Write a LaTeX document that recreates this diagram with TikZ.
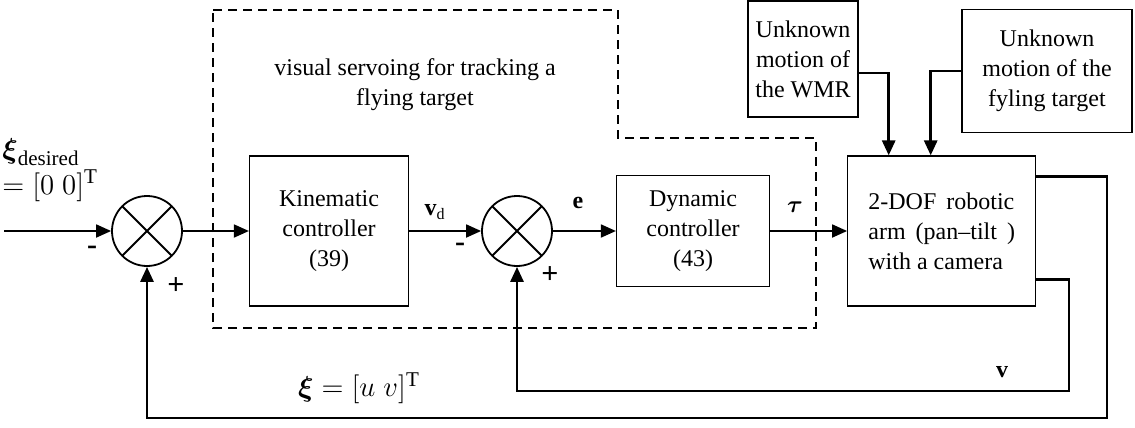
\documentclass[tikz,border=0pt]{standalone}
\usepackage{amsmath}
\usepackage{fontspec}
\setmainfont{Liberation Serif}[Ligatures=TeX]
\usetikzlibrary{positioning,arrows.meta}
\tikzset{
  blk/.style  ={draw, rectangle, align=center, line width=0.6pt, inner sep=2pt, font=\rmfamily\fontsize{12}{15}\selectfont},
  sumj/.style ={draw, circle, minimum size=35pt, inner sep=0pt, line width=0.9pt,
                path picture={\draw[line width=0.9pt] (path picture bounding box.north west) -- (path picture bounding box.south east)
                              (path picture bounding box.north east) -- (path picture bounding box.south west);}},
  arr/.style  ={-{Triangle[length=7.5pt,width=6.5pt]}, line width=0.9pt},
  fb/.style   ={-{Triangle[length=7.5pt,width=6.5pt]}, line width=1.4pt},
  frame/.style={dash pattern=on 4.5pt off 3pt, line width=0.8pt},
  sgn/.style  ={font=\rmfamily\fontsize{15}{15}\selectfont\bfseries, inner sep=0pt},
  lbl/.style  ={font=\rmfamily\fontsize{12}{15}\selectfont, inner sep=0pt},
}

\begin{document}
\begin{tikzpicture}[x=1pt, y=1pt]
  \useasboundingbox (0,0) rectangle (567.5,-214);

  % main chain
  \node[sumj] (sum1) at (73.5,-115.5) {};
  \node[blk, right=33pt of sum1, minimum width=79.5pt, minimum height=75pt] (kin) {Kinematic\\controller\\(39)};
  \node[sumj, right=36pt of kin] (sum2) {};
  \node[blk, right=31.5pt of sum2, minimum width=76.5pt, minimum height=55.5pt] (dyn) {Dynamic\\controller\\(43)};
  \node[blk, right=38.5pt of dyn, minimum width=94pt, minimum height=75pt, align=left] (arm) {2-DOF\, robotic\\arm\, (pan--tilt\, )\\with a camera};

  % disturbances
  \node[blk, minimum width=55pt, minimum height=58pt] (wmr) at (401.5,-29.5) {Unknown\\motion of\\the WMR};
  \node[blk, minimum width=85pt, minimum height=61.5pt] (fly) at (523.5,-35.5) {Unknown\\motion of the\\fyling target};

  % visual servoing frame
  \draw[frame] (106.5,-5) -- (309,-5) -- (309,-69) -- (408,-69) -- (408,-164) -- (106.5,-164) -- cycle;
  \node[lbl, align=center] (vstxt) at (207.5,-42.5) {visual servoing for tracking a\\flying target};

  \coordinate (in)  at (2,-115.5);
  \coordinate (fb1) at (553.5,-209);
  \coordinate (fb2) at (534.5,-195.5);

  \draw[arr] (in) -- (sum1);
  \draw[arr] (sum1) -- (kin);
  \draw[arr] (kin) -- (sum2);
  \draw[arr] (sum2) -- (dyn);
  \draw[arr] (dyn) -- (dyn -| arm.west);
  \draw[fb] ([yshift=-7pt]wmr.east) -| ([xshift=-26.5pt]arm.north);
  \draw[fb] (fly.west) -| ([xshift=-5.5pt]arm.north);
  \draw[fb] ([yshift=-10.5pt]arm.north east) -| (fb1) -| (sum1.south);
  \draw[fb] ([yshift=13.5pt]arm.south east) -| (fb2) -| (sum2.south);

  % labels
  \node[lbl, anchor=north west, align=left, font=\rmfamily\fontsize{15}{18}\selectfont] (xid) at (1,-69) {$\boldsymbol{\xi}_{\text{desired}}$\\$=[0\;0]^{\mathrm{T}}$};
  \node[sgn] (m1) at (46,-125) {-};
  \node[sgn] (p1) at (88,-143) {+};
  \node[lbl] (vd) at (217.5,-106) {$\mathbf{v}_{\mathrm{d}}$};
  \node[sgn] (m2) at (230,-123.5) {-};
  \node[sgn] (p2) at (275,-137.5) {+};
  \node[lbl] (e) at (289,-101.5) {$\mathbf{e}$};
  \node[lbl] (tau) at (397.5,-103.5) {$\boldsymbol{\tau}$};
  \node[lbl] (v) at (501,-186) {$\mathbf{v}$};
  \node[lbl, font=\rmfamily\fontsize{15}{15}\selectfont] (xi) at (179.5,-194) {$\boldsymbol{\xi}=[u\;v]^{\mathrm{T}}$};
\end{tikzpicture}
\end{document}
